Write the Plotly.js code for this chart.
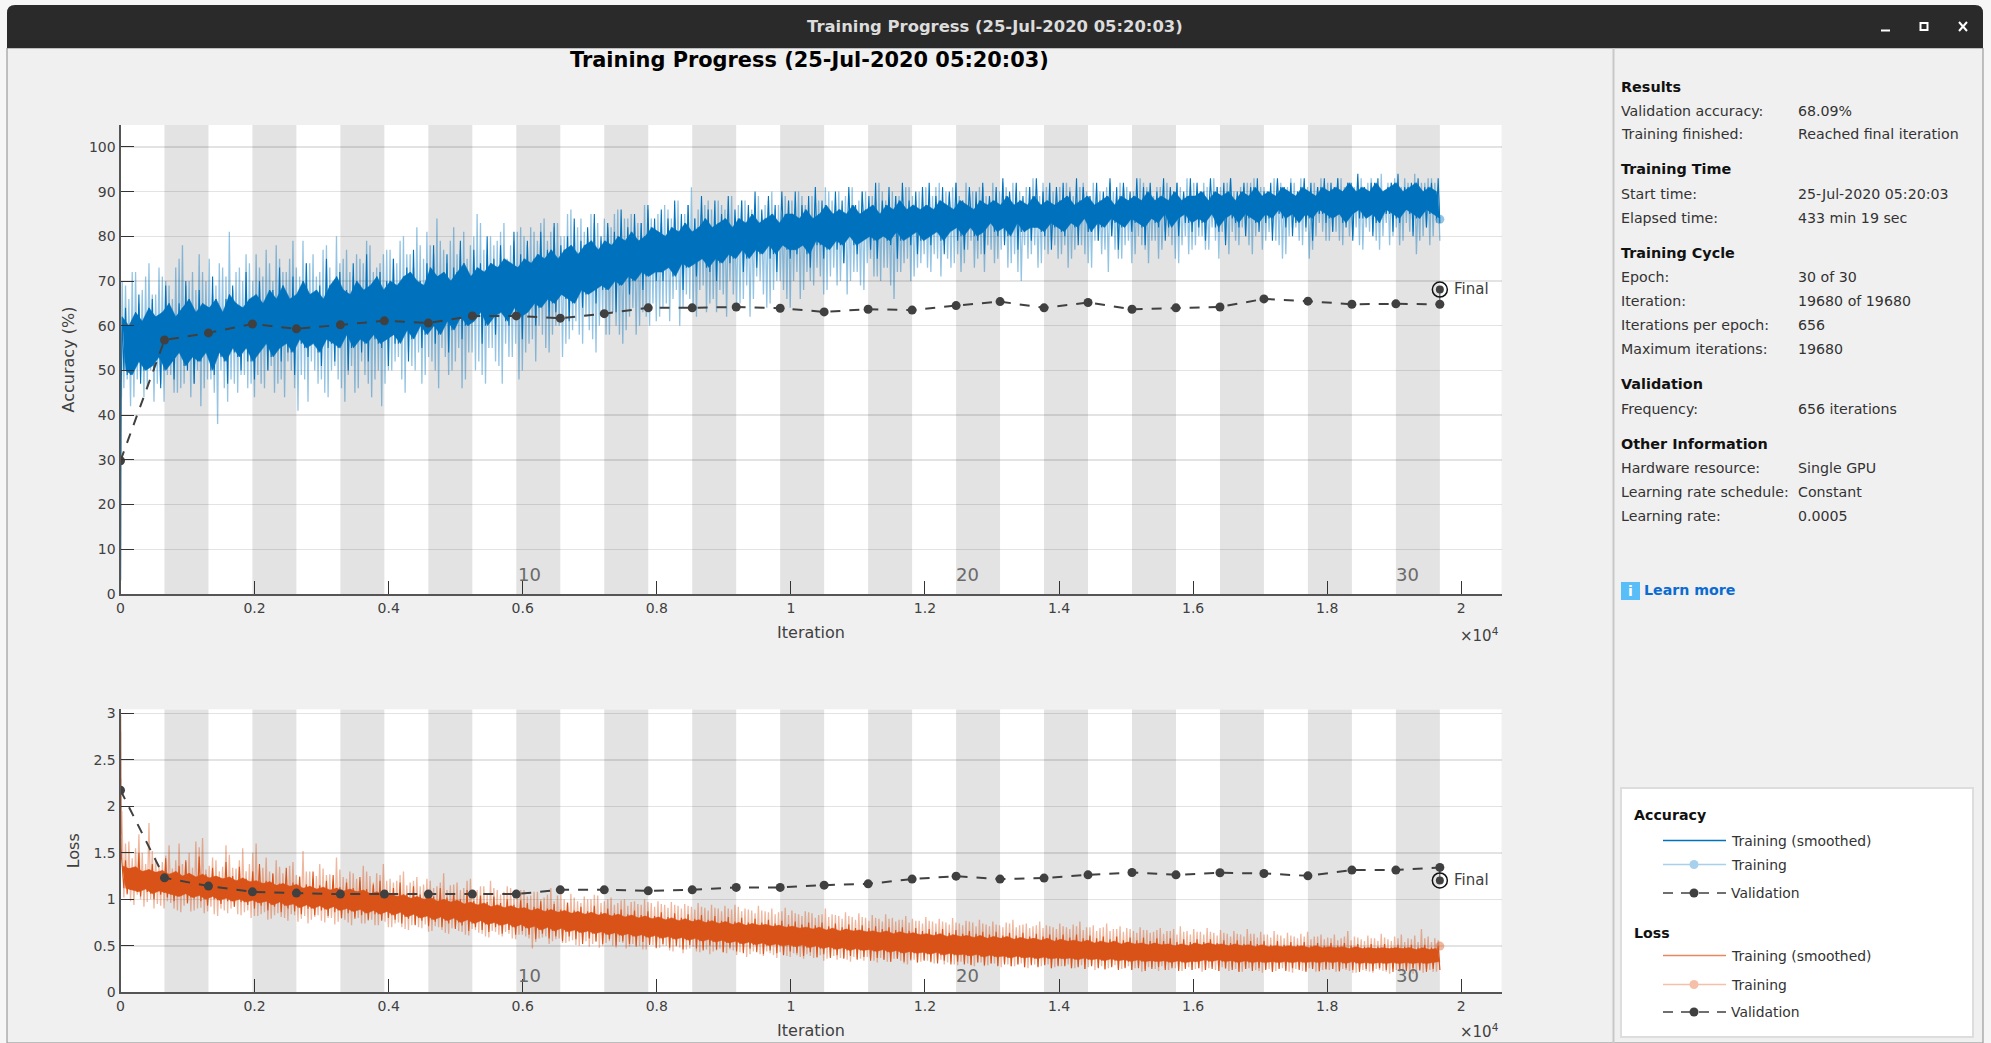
<!DOCTYPE html>
<html><head><meta charset="utf-8">
<script src="https://cdn.plot.ly/plotly-3.0.1.min.js"></script>
<style>html,body{margin:0;padding:0;background:#f6f6f6;overflow:hidden}#chart{width:1991px;height:1043px}</style>
</head><body><div id="chart"></div>
<script>
const windowTitle = "Training Progress (25-Jul-2020 05:20:03)";
const epochIter = 656, finalIter = 19680;
const validationEpochs = [0,1,2,3,4,5,6,7,8,9,10,11,12,13,14,15,16,17,18,19,20,21,22,23,24,25,26,27,28,29,30];
const validationAccuracy = [29.8,56.8,58.4,60.4,59.3,60.2,61.1,60.6,62.2,62.2,61.7,62.7,64.0,64.0,64.2,63.9,63.1,63.7,63.5,64.5,65.4,64.0,65.2,63.7,64.0,64.2,66.0,65.5,64.8,64.9,64.8];
const validationLoss = [2.173,1.231,1.142,1.08,1.067,1.056,1.056,1.056,1.056,1.056,1.102,1.102,1.091,1.102,1.128,1.128,1.152,1.166,1.217,1.249,1.217,1.228,1.263,1.288,1.263,1.285,1.278,1.252,1.314,1.314,1.343];
const finalAccuracy = 68.09, finalLoss = 1.203, lastRawAccuracy = 83.8, lastRawLoss = 0.497;
const startIter = [1,3,5,8,11,15,20];
const startAccRaw = [3,18,38,30,50,44,64];
const startAccSmooth = [3,14,30,40,47,50,58];
const startLossRaw = [2.98,2.4,2.8,2.0,2.3,1.7,1.95];
const startLossSmooth = [2.98,2.2,1.9,1.7,1.55,1.45,1.4];

const trainingAccuracyA = [
70,46,66,42,72,48,68,44,74,50,67,47,71,43,69,49,73,45,78,47,70,44,68,50,72,46,75,48,69,38,73,46,81,48,72,45,70,49,74,47,
76,49,71,46,74,51,78,47,72,44,75,50,73,41,79,48,74,52,71,47,77,45,73,50,80,48,75,43,72,51,76,46,74,49,78,44,73,50,76,47,
77,50,74,53,80,45,76,51,82,54,75,49,78,52,84,46,77,53,79,50,76,55,81,48,78,54,85,52,77,47,80,55,79,51,83,56,78,53,81,48,
80,54,82,57,79,60,84,55,81,58,83,60,80,56,86,59,82,58,81,62,85,57,83,60,84,58,82,63,86,58,84,59,85,64,83,60,87,62,84,65,
85,62,87,65,84,66,88,60,85,67,91,64,86,68,87,63,86,66,88,68,86,62,89,67,87,65,88,69,86,66,89,70,87,64,90,68,87,70,89,66,
88,70,90,66,87,72,89,69,88,71,91,68,88,73,90,70,89,67,91,72,88,69,90,74,89,71,92,70,88,73,90,66,89,72,91,75,89,71,90,74,
91,73,89,76,92,71,90,75,91,74,89,72,92,77,90,73,91,76,89,78,92,74,90,77,91,73,92,76,90,70,91,75,93,78,89,74,91,76,90,78,
91,76,92,73,89,77,91,78,90,74,92,79,90,76,91,72,90,77,92,75,91,79,90,76,93,78,91,74,89,79,91,77,92,80,90,75,91,78,93,76,
92,78,90,80,91,77,93,79,91,81,92,76,90,79,91,82,92,78,93,80,91,77,90,81,93,79,92,75,91,80,92,82,93,78,91,75,92,80,93,81,
92,79,91,81,93,78,92,80,91,82,93,77,92,81,91,79,94,80,92,78,93,82,91,79,92,81,94,76,92,80,93,78,92,83];
const trainingAccuracyB = [
69,48,72,44,65,50,71,46,67,43,73,47,70,49,66,45,75,46,69,50,72,47,76,42,70,48,67,45,74,50,71,43,68,47,73,49,76,46,70,44,
73,47,77,50,70,45,75,48,72,52,79,46,71,49,74,43,76,50,72,48,78,44,70,51,74,46,77,49,71,45,75,52,79,47,72,48,74,42,77,50,
75,52,79,48,76,54,73,50,78,47,81,53,76,50,79,55,74,49,82,52,77,46,75,54,80,50,83,49,76,55,78,52,81,47,75,53,79,56,82,50,
78,56,81,52,83,58,79,54,82,60,80,53,85,57,78,61,84,56,80,59,83,54,79,62,82,58,85,60,81,56,84,62,80,58,83,63,86,60,82,61,
83,64,86,61,84,68,82,64,87,66,84,62,85,69,88,65,83,63,87,67,85,70,84,64,88,66,85,62,87,71,84,67,88,65,86,70,85,68,88,64,
86,72,89,68,85,70,88,73,86,67,90,71,87,69,85,74,89,70,87,72,90,68,86,75,88,71,90,73,87,69,89,72,86,74,91,70,88,73,87,76,
88,72,91,75,87,78,89,73,92,76,88,74,90,79,87,75,91,72,88,77,90,75,92,79,88,74,90,72,87,78,91,76,89,73,92,77,88,79,90,75,
89,78,91,75,88,80,92,76,89,73,90,79,88,77,92,80,89,75,91,78,88,74,90,80,92,77,89,79,91,75,88,81,90,78,92,74,89,80,91,77,
90,80,92,77,89,82,91,75,90,79,93,81,89,78,91,80,92,76,90,83,91,79,89,81,92,78,91,76,93,82,90,79,92,81,89,77,91,83,92,79,
90,81,93,79,91,83,89,80,92,78,90,82,93,81,91,77,89,83,92,80,90,78,93,83,91,81,89,79,92,82,93,80,91,79];

const smoothedAccuracyA = [
62,50,60,49,63,52,61,50,64,51,62,53,63,50,65,52,62,54,64,51,66,53,63,52,65,54,64,50,66,54,63,52,67,55,65,53,64,55,66,52,
67,54,65,56,68,53,66,55,69,56,66,54,67,57,70,55,67,56,68,54,66,57,69,56,71,55,68,58,67,55,70,57,68,56,69,58,71,56,68,57,
70,58,69,56,71,59,72,57,70,60,69,58,73,60,71,58,72,61,70,59,72,62,74,60,71,61,73,63,72,60,74,62,73,63,75,61,74,64,73,62,
75,63,74,65,76,64,75,66,77,65,75,67,77,66,78,65,76,68,78,67,79,68,77,69,79,68,78,70,80,69,79,71,81,70,79,72,80,71,82,72,
81,72,80,73,82,71,81,74,83,73,81,74,82,75,84,73,82,75,83,74,84,76,82,75,84,77,83,75,85,77,83,76,84,78,85,76,83,78,85,77,
85,77,84,78,86,76,84,79,85,78,87,77,85,79,86,78,85,80,87,78,85,79,86,80,87,79,85,80,87,79,86,81,88,79,86,80,87,81,86,79,
87,80,86,81,88,79,87,81,86,82,88,80,87,82,86,80,88,81,87,83,88,81,87,82,89,80,87,83,88,81,87,82,89,82,87,81,88,83,87,82,
88,81,89,83,87,82,88,84,89,81,87,83,88,82,89,84,87,83,89,82,88,84,89,83,88,82,90,84,88,83,89,85,88,82,90,84,88,85,89,83,
89,84,90,83,88,85,90,82,89,84,90,85,88,83,90,85,89,84,91,83,89,85,90,84,89,86,91,84,90,85,89,83,91,85,90,84,89,86,91,85,
90,84,91,85,90,83,92,85,90,86,91,84,90,85,92,83,90,86,91,85,92,84,90,86,91,85,92,84,90,86,91,85,90,84];
const smoothedAccuracyB = [
64,49,59,52,67,47,61,51,66,50,60,46,69,53,62,48,65,54,70,50,61,47,68,52,63,55,71,49,62,53,66,47,69,54,64,50,72,52,63,48,
70,55,64,50,68,57,73,52,66,54,71,49,65,56,74,53,67,58,69,51,75,55,66,52,72,57,68,50,74,58,69,54,76,52,67,57,72,55,70,51,
75,56,69,60,73,52,77,58,70,55,74,61,78,56,71,59,76,54,73,62,79,57,72,60,77,63,74,56,80,61,75,58,78,64,73,60,81,62,76,57,
79,64,75,60,81,66,77,62,83,63,78,68,80,61,84,67,79,64,82,70,85,65,80,68,83,71,81,63,86,70,82,67,85,72,83,68,87,73,84,70,
86,70,84,74,88,72,85,68,87,75,84,71,89,76,86,72,88,70,85,76,89,74,86,78,88,72,87,76,90,73,86,78,89,75,87,72,90,79,88,75,
90,76,87,80,89,73,91,78,88,75,86,81,90,77,88,74,91,80,87,76,90,82,89,77,92,75,88,81,91,78,89,75,92,82,88,78,90,76,91,80,
92,78,89,82,91,76,90,83,92,79,88,77,91,84,90,79,92,76,89,83,91,80,93,78,90,84,92,77,89,81,91,79,93,84,90,80,92,77,91,83,
92,80,90,84,93,78,91,85,89,81,92,79,90,84,93,80,91,77,92,85,90,81,93,83,91,78,92,84,90,82,93,79,91,85,92,80,90,83,93,81,
92,82,90,79,93,85,91,81,92,78,93,84,90,82,92,80,91,86,93,81,90,83,92,79,93,85,91,82,92,80,90,86,93,82,92,79,91,85,93,83,
92,81,93,85,90,82,92,79,94,84,91,86,92,80,93,83,90,85,92,81,94,83,91,86,92,80,93,84,91,82,92,85,93,83];

const trainingLossA = [
1.75,1.02,1.62,0.98,1.55,1.05,1.5,0.92,1.82,1.0,1.45,0.95,1.4,0.9,1.58,0.96,1.42,0.88,1.38,0.93,1.5,0.87,1.62,0.9,1.66,0.85,1.36,0.92,1.42,0.82,1.35,0.88,1.48,0.9,1.33,0.84,1.55,0.86,1.38,0.8,
1.6,0.82,1.34,0.86,1.3,0.79,1.42,0.85,1.28,0.8,1.36,0.84,1.26,0.76,1.52,0.82,1.3,0.78,1.25,0.83,1.33,0.75,1.27,0.8,1.45,0.76,1.24,0.78,1.3,0.72,1.22,0.8,1.36,0.74,1.25,0.78,1.28,0.72,1.38,0.76,
1.22,0.7,1.2,0.75,1.3,0.68,1.18,0.72,1.24,0.7,1.16,0.73,1.2,0.66,1.14,0.7,1.28,0.64,1.15,0.69,1.18,0.66,1.12,0.62,1.22,0.68,1.1,0.64,1.14,0.6,1.2,0.66,1.1,0.62,1.08,0.65,1.12,0.58,1.06,0.62,
1.1,0.6,1.04,0.47,1.08,0.58,1.02,0.6,1.12,0.55,1.04,0.58,1.0,0.53,1.06,0.56,0.98,0.5,1.03,0.55,1.0,0.52,1.04,0.48,0.98,0.53,1.02,0.5,0.96,0.54,1.0,0.47,0.97,0.52,0.95,0.5,1.0,0.46,0.96,0.51,
0.98,0.48,0.94,0.5,0.97,0.44,0.93,0.48,0.95,0.46,0.92,0.49,0.96,0.43,0.91,0.46,0.94,0.44,0.9,0.47,0.93,0.42,0.89,0.45,0.92,0.43,0.9,0.38,0.88,0.44,0.93,0.41,0.87,0.44,0.9,0.4,0.86,0.43,0.91,0.39,
0.88,0.42,0.84,0.38,0.87,0.41,0.85,0.37,0.83,0.4,0.9,0.36,0.84,0.39,0.82,0.37,0.86,0.35,0.81,0.38,0.85,0.36,0.8,0.38,0.83,0.34,0.79,0.37,0.84,0.33,0.8,0.36,0.78,0.34,0.82,0.3,0.79,0.35,0.77,0.33,
0.81,0.34,0.76,0.31,0.79,0.35,0.75,0.32,0.8,0.3,0.74,0.33,0.77,0.31,0.75,0.28,0.78,0.32,0.73,0.29,0.76,0.31,0.72,0.27,0.75,0.3,0.78,0.28,0.72,0.31,0.74,0.26,0.71,0.3,0.76,0.28,0.72,0.3,0.7,0.27,
0.74,0.28,0.7,0.3,0.73,0.26,0.76,0.29,0.7,0.27,0.72,0.24,0.69,0.28,0.74,0.26,0.68,0.29,0.71,0.25,0.69,0.28,0.66,0.26,0.7,0.22,0.67,0.27,0.65,0.25,0.69,0.28,0.66,0.24,0.68,0.26,0.71,0.23,0.66,0.27,
0.68,0.25,0.65,0.22,0.69,0.26,0.64,0.24,0.67,0.27,0.63,0.23,0.66,0.25,0.62,0.22,0.68,0.26,0.63,0.24,0.65,0.21,0.62,0.25,0.66,0.23,0.61,0.26,0.64,0.22,0.6,0.25,0.63,0.23,0.65,0.26,0.6,0.22,0.62,0.24,
0.59,0.24,0.62,0.22,0.58,0.25,0.66,0.23,0.6,0.21,0.57,0.24,0.61,0.22,0.58,0.25,0.63,0.23,0.57,0.2,0.6,0.24,0.62,0.22,0.58,0.2,0.61,0.23,0.68,0.21,0.6,0.24,0.58,0.22];
const trainingLossB = [
1.6,1.05,1.44,0.94,1.7,1.0,1.38,0.97,1.52,0.9,1.35,0.93,1.47,0.98,1.33,0.9,1.6,0.86,1.4,0.95,1.34,0.88,1.56,0.91,1.32,0.87,1.45,0.84,1.3,0.9,1.58,0.85,1.34,0.92,1.42,0.83,1.3,0.88,1.5,0.82,
1.32,0.84,1.45,0.78,1.27,0.83,1.35,0.81,1.24,0.77,1.4,0.83,1.25,0.79,1.3,0.74,1.22,0.81,1.38,0.77,1.26,0.8,1.2,0.73,1.32,0.79,1.22,0.75,1.28,0.81,1.2,0.74,1.3,0.77,1.18,0.72,1.26,0.78,1.2,0.7,
1.18,0.74,1.26,0.7,1.15,0.67,1.2,0.73,1.14,0.69,1.22,0.65,1.12,0.71,1.18,0.67,1.1,0.63,1.16,0.7,1.1,0.65,1.2,0.61,1.08,0.67,1.14,0.63,1.06,0.59,1.12,0.65,1.05,0.6,1.14,0.63,1.04,0.57,1.1,0.62,
1.03,0.58,1.08,0.54,1.0,0.59,1.05,0.52,0.98,0.57,1.06,0.53,0.97,0.55,1.02,0.51,0.96,0.56,1.0,0.49,1.05,0.54,0.96,0.5,1.0,0.55,0.94,0.48,0.99,0.53,0.93,0.49,0.98,0.51,0.94,0.46,0.97,0.52,0.92,0.47,
0.95,0.5,0.91,0.45,0.94,0.49,0.9,0.42,0.93,0.47,0.89,0.44,0.92,0.48,0.88,0.41,0.91,0.45,0.87,0.43,0.9,0.46,0.94,0.4,0.87,0.44,0.89,0.41,0.85,0.45,0.88,0.39,0.86,0.42,0.84,0.37,0.87,0.41,0.83,0.38,
0.85,0.4,0.82,0.36,0.86,0.39,0.8,0.37,0.84,0.34,0.81,0.38,0.83,0.35,0.79,0.37,0.82,0.33,0.78,0.36,0.81,0.34,0.77,0.37,0.8,0.32,0.76,0.35,0.79,0.33,0.76,0.36,0.78,0.31,0.75,0.34,0.77,0.32,0.74,0.35,
0.77,0.32,0.74,0.35,0.76,0.3,0.73,0.33,0.75,0.29,0.72,0.33,0.76,0.3,0.71,0.32,0.74,0.28,0.71,0.31,0.73,0.29,0.7,0.32,0.74,0.28,0.7,0.3,0.73,0.27,0.69,0.31,0.72,0.28,0.69,0.3,0.71,0.26,0.68,0.29,
0.71,0.29,0.68,0.26,0.71,0.28,0.67,0.25,0.7,0.29,0.66,0.27,0.7,0.24,0.66,0.28,0.68,0.26,0.65,0.27,0.68,0.24,0.64,0.28,0.67,0.25,0.64,0.27,0.67,0.23,0.63,0.26,0.66,0.28,0.62,0.25,0.65,0.27,0.62,0.24,
0.65,0.26,0.62,0.24,0.65,0.27,0.61,0.23,0.64,0.25,0.6,0.27,0.63,0.22,0.6,0.25,0.63,0.27,0.59,0.23,0.62,0.25,0.59,0.22,0.62,0.26,0.58,0.24,0.61,0.21,0.58,0.25,0.6,0.23,0.57,0.26,0.6,0.22,0.57,0.24,
0.58,0.25,0.56,0.22,0.6,0.24,0.56,0.21,0.59,0.25,0.55,0.23,0.58,0.21,0.55,0.24,0.59,0.22,0.55,0.25,0.58,0.22,0.54,0.24,0.57,0.2,0.54,0.23,0.58,0.25,0.54,0.22,0.56,0.24];

const smoothedLossA = [
1.36,1.12,1.33,1.1,1.35,1.08,1.3,1.11,1.32,1.06,1.29,1.09,1.31,1.07,1.27,1.05,1.3,1.03,1.25,1.06,1.28,1.02,1.24,1.04,1.27,1.0,1.23,1.03,1.25,0.99,1.22,1.01,1.24,0.98,1.2,1.0,1.23,0.97,1.19,0.99,
1.2,0.96,1.17,0.98,1.19,0.94,1.15,0.97,1.17,0.93,1.14,0.95,1.16,0.91,1.12,0.94,1.14,0.9,1.11,0.93,1.13,0.89,1.1,0.92,1.12,0.88,1.09,0.9,1.11,0.87,1.08,0.89,1.1,0.85,1.06,0.88,1.08,0.84,1.05,0.87,
1.06,0.83,1.03,0.86,1.05,0.81,1.01,0.84,1.03,0.8,1.0,0.82,1.02,0.78,0.98,0.81,1.0,0.77,0.97,0.8,0.99,0.75,0.95,0.78,0.97,0.74,0.94,0.77,0.96,0.73,0.92,0.75,0.94,0.72,0.91,0.74,0.93,0.7,0.9,0.73,
0.91,0.69,0.88,0.71,0.9,0.67,0.87,0.7,0.89,0.66,0.86,0.69,0.88,0.65,0.85,0.67,0.87,0.64,0.84,0.66,0.86,0.63,0.83,0.65,0.85,0.62,0.82,0.64,0.84,0.61,0.81,0.63,0.83,0.6,0.8,0.62,0.82,0.59,0.79,0.61,
0.81,0.58,0.78,0.6,0.8,0.57,0.77,0.59,0.79,0.56,0.76,0.58,0.78,0.55,0.75,0.57,0.77,0.54,0.74,0.56,0.76,0.53,0.73,0.55,0.75,0.52,0.72,0.54,0.74,0.51,0.72,0.53,0.73,0.5,0.71,0.52,0.72,0.5,0.7,0.51,
0.71,0.49,0.69,0.51,0.7,0.48,0.68,0.5,0.7,0.47,0.67,0.49,0.69,0.46,0.66,0.48,0.68,0.45,0.66,0.47,0.67,0.45,0.65,0.46,0.66,0.44,0.64,0.46,0.66,0.43,0.63,0.45,0.65,0.42,0.63,0.44,0.64,0.42,0.62,0.43,
0.63,0.41,0.61,0.43,0.63,0.4,0.6,0.42,0.62,0.4,0.6,0.41,0.61,0.39,0.59,0.41,0.61,0.38,0.58,0.4,0.6,0.38,0.58,0.39,0.6,0.37,0.57,0.39,0.59,0.37,0.57,0.38,0.58,0.36,0.56,0.38,0.58,0.36,0.55,0.37,
0.57,0.36,0.55,0.37,0.56,0.35,0.54,0.37,0.56,0.35,0.53,0.36,0.55,0.34,0.53,0.36,0.55,0.34,0.52,0.35,0.54,0.33,0.52,0.35,0.53,0.33,0.51,0.34,0.53,0.33,0.51,0.34,0.52,0.32,0.5,0.34,0.52,0.32,0.5,0.33,
0.53,0.33,0.51,0.35,0.53,0.33,0.51,0.35,0.52,0.33,0.5,0.34,0.52,0.32,0.5,0.34,0.51,0.32,0.49,0.33,0.51,0.32,0.49,0.33,0.5,0.32,0.49,0.33,0.5,0.32,0.49,0.33,0.5,0.32,0.48,0.33,0.5,0.32,0.48,0.33,
0.49,0.32,0.48,0.33,0.49,0.31,0.47,0.33,0.49,0.31,0.47,0.32,0.48,0.31,0.47,0.32,0.48,0.31,0.47,0.32,0.48,0.31,0.47,0.32,0.48,0.31,0.46,0.32,0.48,0.31,0.46,0.32,0.47,0.33];
const smoothedLossB = [
1.42,1.06,1.32,1.12,1.5,1.03,1.3,1.08,1.38,1.0,1.28,1.05,1.44,1.02,1.26,0.98,1.36,1.04,1.42,0.96,1.25,1.01,1.46,0.98,1.27,0.93,1.34,1.0,1.24,0.95,1.4,0.98,1.25,0.92,1.35,0.97,1.22,0.94,1.3,0.9,
1.38,0.93,1.2,0.88,1.28,0.92,1.17,0.86,1.34,0.9,1.18,0.87,1.24,0.84,1.16,0.9,1.3,0.83,1.15,0.88,1.2,0.82,1.26,0.86,1.13,0.8,1.18,0.85,1.12,0.79,1.24,0.83,1.11,0.78,1.16,0.84,1.2,0.77,1.1,0.8,
1.12,0.78,1.18,0.74,1.06,0.79,1.14,0.72,1.05,0.77,1.1,0.71,1.03,0.76,1.12,0.7,1.02,0.74,1.07,0.68,1.0,0.72,1.1,0.66,0.98,0.7,1.04,0.67,0.97,0.65,1.03,0.7,0.96,0.63,1.0,0.67,0.94,0.62,0.99,0.66,
0.96,0.62,0.92,0.57,0.98,0.63,0.9,0.58,0.95,0.6,0.89,0.55,0.96,0.6,0.88,0.57,0.92,0.52,0.87,0.58,0.93,0.55,0.86,0.52,0.9,0.57,0.85,0.5,0.89,0.55,0.84,0.52,0.88,0.49,0.83,0.54,0.87,0.51,0.82,0.48,
0.86,0.52,0.81,0.48,0.85,0.5,0.8,0.46,0.84,0.51,0.79,0.47,0.83,0.45,0.78,0.5,0.82,0.46,0.77,0.43,0.81,0.48,0.76,0.44,0.8,0.42,0.75,0.47,0.79,0.43,0.75,0.41,0.78,0.45,0.74,0.42,0.77,0.4,0.73,0.44,
0.76,0.42,0.73,0.39,0.75,0.43,0.72,0.38,0.75,0.41,0.71,0.37,0.74,0.4,0.7,0.36,0.73,0.39,0.69,0.35,0.72,0.38,0.69,0.34,0.71,0.37,0.68,0.35,0.7,0.33,0.67,0.36,0.7,0.33,0.66,0.35,0.69,0.32,0.66,0.34,
0.68,0.33,0.65,0.31,0.68,0.34,0.64,0.3,0.67,0.33,0.63,0.3,0.66,0.29,0.63,0.32,0.65,0.29,0.62,0.31,0.65,0.28,0.61,0.3,0.64,0.28,0.61,0.3,0.64,0.27,0.6,0.29,0.63,0.27,0.6,0.29,0.62,0.26,0.59,0.28,
0.62,0.28,0.59,0.26,0.62,0.27,0.58,0.25,0.61,0.28,0.58,0.26,0.6,0.25,0.57,0.27,0.6,0.24,0.56,0.26,0.59,0.24,0.56,0.26,0.59,0.23,0.55,0.25,0.58,0.27,0.55,0.24,0.58,0.26,0.54,0.23,0.57,0.25,0.54,0.24,
0.57,0.26,0.54,0.24,0.57,0.25,0.53,0.23,0.56,0.26,0.53,0.24,0.56,0.22,0.52,0.25,0.55,0.23,0.52,0.26,0.55,0.24,0.51,0.22,0.55,0.25,0.51,0.23,0.54,0.26,0.51,0.24,0.54,0.22,0.5,0.25,0.53,0.23,0.5,0.25,
0.53,0.25,0.5,0.23,0.53,0.26,0.5,0.24,0.52,0.22,0.49,0.25,0.52,0.23,0.49,0.26,0.52,0.24,0.48,0.22,0.51,0.25,0.49,0.23,0.51,0.26,0.48,0.24,0.51,0.22,0.48,0.25,0.5,0.24];

const xTickVals = [0,2000,4000,6000,8000,10000,12000,14000,16000,18000,20000];
const xTickText = ["0","0.2","0.4","0.6","0.8","1","1.2","1.4","1.6","1.8","2"];
const accTicks = [0,10,20,30,40,50,60,70,80,90,100];
const lossTicks = [0,0.5,1,1.5,2,2.5,3];
const lossTickText = ["0","0.5","1","1.5","2","2.5","3"];
const epochLabels = ["10","20","30"];
const epochLabelIter = [6094,12640,19200];
const panelRows = [
 ["Results",86.5,1],["Validation accuracy:",110.5,0,"68.09%"],["Training finished:",134.5,0,"Reached final iteration"],
 ["Training Time",169,1],["Start time:",194,0,"25-Jul-2020 05:20:03"],["Elapsed time:",218,0,"433 min 19 sec"],
 ["Training Cycle",253,1],["Epoch:",277,0,"30 of 30"],["Iteration:",301,0,"19680 of 19680"],["Iterations per epoch:",325,0,"656"],["Maximum iterations:",349,0,"19680"],
 ["Validation",384,1],["Frequency:",409,0,"656 iterations"],
 ["Other Information",444,1],["Hardware resource:",468,0,"Single GPU"],["Learning rate schedule:",492,0,"Constant"],["Learning rate:",516,0,"0.0005"]];

const W=1991,H=1043;
const px=v=>v/W, py=v=>1-v/H;
const FONT='"DejaVu Sans", sans-serif', TXT='#404040';
const BLUE='#0072bd', ORANGE='#d95319', VAL='#404040';
const BLUE_L='rgba(0,114,189,0.42)', ORANGE_L='rgba(217,83,25,0.42)';
const weave=(a,b)=>{const o=[];for(let i=0;i<a.length;i+=2)o.push(a[i],a[i+1],b[i],b[i+1]);return o;};
const spreadIters=n=>Array.from({length:n},(_,i)=>25+i*(finalIter-25)/(n-1));
const xOf=a=>startIter.concat(spreadIters(a.length));
const valIter=validationEpochs.map(e=>e*epochIter);

function line(x,y,color,width,ax,extra){return Object.assign({type:'scatter',mode:'lines',x,y,xaxis:'x'+ax,yaxis:'y'+ax,line:{color,width,simplify:false},hoverinfo:'skip',showlegend:false},extra||{});}
// the solid core: upper samples of the smoothed curve, then its lower samples back
function band(smooth,c,ax){
 const xs=spreadIters(smooth.length), up=[],dn=[];
 smooth.forEach((v,i)=>(i%2?dn:up).push([xs[i],v]));
 const pts=up.concat(dn.reverse());
 return line(pts.map(p=>p[0]),pts.map(p=>p[1]),c,0.5,ax,{fill:'toself',fillcolor:c});
}
function panelTraces(rawA,rawB,startRaw,smoothA,smoothB,startSmooth,val,fin,last,cL,c,ax){
 const raw=weave(rawA,rawB), smooth=weave(smoothA,smoothB);
 return [
  line(xOf(raw),startRaw.concat(raw),cL,1.3,ax),
  band(smoothA,c,ax),
  line(xOf(smooth),startSmooth.concat(smooth),c,1.1,ax),
  {type:'scatter',mode:'markers',x:[finalIter],y:[last],xaxis:'x'+ax,yaxis:'y'+ax,marker:{color:cL,size:9},showlegend:false,hoverinfo:'skip'},
  line(valIter,val,VAL,2,ax,{mode:'lines+markers',line:{color:VAL,width:2,dash:'10px,9px'},marker:{color:VAL,size:9}}),
  line([finalIter,finalIter],[fin,val[val.length-1]],VAL,1,ax),
  {type:'scatter',mode:'markers',x:[finalIter],y:[fin],xaxis:'x'+ax,yaxis:'y'+ax,marker:{color:VAL,size:8},showlegend:false,hoverinfo:'skip'},
  {type:'scatter',mode:'markers',x:[finalIter],y:[fin],xaxis:'x'+ax,yaxis:'y'+ax,marker:{symbol:'circle-open',color:'#111',size:15,line:{width:1.5,color:'#111'}},showlegend:false,hoverinfo:'skip'}
 ];
}
const data=[...panelTraces(trainingAccuracyA,trainingAccuracyB,startAccRaw,smoothedAccuracyA,smoothedAccuracyB,startAccSmooth,validationAccuracy,finalAccuracy,lastRawAccuracy,BLUE_L,BLUE,''),
            ...panelTraces(trainingLossA,trainingLossB,startLossRaw,smoothedLossA,smoothedLossB,startLossSmooth,validationLoss,finalLoss,lastRawLoss,ORANGE_L,ORANGE,'2')];

const X0=120.5,X1=1501.5;
const xMax=(X1-X0)/670.4*10000;
const acc={top:125,bot:594,max:(594-125)/4.471};
const los={top:709.3,bot:992.3,max:(992.3-709.3)/93};
function xa(anchor){return {domain:[px(X0),px(X1)],range:[0,xMax],anchor,tickmode:'array',tickvals:xTickVals,ticktext:xTickText,ticks:'inside',ticklen:13,tickwidth:1,tickcolor:'#333',showline:true,linecolor:'#555',linewidth:2,showgrid:false,zeroline:false,tickfont:{family:FONT,size:14,color:TXT},title:{text:'Iteration',font:{family:FONT,size:16,color:TXT},standoff:12},layer:'above traces'};}
function ya(anchor,p,vals,text,title){return {domain:[py(p.bot),py(p.top)],range:[0,p.max],anchor,tickmode:'array',tickvals:vals,ticktext:text,ticks:'inside',ticklen:13,tickwidth:1,tickcolor:'#333',showline:true,linecolor:'#555',linewidth:2,showgrid:true,gridcolor:'rgba(0,0,0,0.11)',gridwidth:1.5,zeroline:false,tickfont:{family:FONT,size:14,color:TXT},title:{text:title,font:{family:FONT,size:16,color:TXT},standoff:10},layer:'above traces'};}

const shapes=[], annotations=[];
const pr=(x0,y0,x1,y1,fill,lc,lw)=>shapes.push({type:'rect',xref:'paper',yref:'paper',x0:px(x0),x1:px(x1),y0:py(y0),y1:py(y1),fillcolor:fill||'rgba(0,0,0,0)',line:{color:lc||'rgba(0,0,0,0)',width:lw||0},layer:'below'});
const pl=(x0,y0,x1,y1,c,w,dash,layer)=>shapes.push({type:'line',xref:'paper',yref:'paper',x0:px(x0),x1:px(x1),y0:py(y0),y1:py(y1),line:{color:c,width:w,dash:dash||'solid'},layer:layer||'above'});
const pc=(cx,cy,r,c)=>shapes.push({type:'circle',xref:'paper',yref:'paper',x0:px(cx-r),x1:px(cx+r),y0:py(cy-r),y1:py(cy+r),fillcolor:c,line:{width:0},layer:'above'});
const txt=(t,x,y,o)=>annotations.push(Object.assign({text:t,xref:'paper',yref:'paper',x:px(x),y:py(y),xanchor:'left',yanchor:'middle',showarrow:false,align:'left',font:{family:FONT,size:14.2,color:'#333'}},o||{}));

// window chrome
pr(7,48,1983,1043,'#f0f0f0','#8a8a8a',1);
pr(X0,acc.top,X1,acc.bot,'#ffffff');
pr(X0,los.top,X1,los.bot,'#ffffff');
shapes.push({type:'path',xref:'paper',yref:'paper',layer:'below',fillcolor:'#2a2a2a',line:{width:0},
 path:`M ${px(7)} ${py(48)} L ${px(7)} ${py(13)} Q ${px(7)} ${py(5)} ${px(15)} ${py(5)} L ${px(1975)} ${py(5)} Q ${px(1983)} ${py(5)} ${px(1983)} ${py(13)} L ${px(1983)} ${py(48)} Z`});
pl(1613.5,48,1613.5,1043,'#c8c8c8',2,'solid','below');
txt(windowTitle,995,26.5,{xanchor:'center',font:{family:FONT,size:16.4,color:'#dcdcdc',weight:600}});
pl(1881,30.5,1890,30.5,'#fff',2);
pr(1920.5,23,1927.5,30,'rgba(0,0,0,0)','#fff',2); shapes[shapes.length-1].layer='above';
pl(1959,22,1967,31,'#fff',2); pl(1967,22,1959,31,'#fff',2);
txt(windowTitle,809,60.5,{xanchor:'center',font:{family:FONT,size:20.9,color:'#000',weight:700}});

// epoch stripes
for(let e=1;e<30;e+=2){
 shapes.push({type:'rect',xref:'x',yref:'y',x0:e*epochIter,x1:(e+1)*epochIter,y0:0,y1:acc.max,fillcolor:'#e3e3e3',line:{width:0},layer:'below'});
 shapes.push({type:'rect',xref:'x2',yref:'y2',x0:e*epochIter,x1:(e+1)*epochIter,y0:0,y1:los.max,fillcolor:'#e3e3e3',line:{width:0},layer:'below'});
}
// epoch labels
epochLabels.forEach((t,i)=>{
 annotations.push({text:t,xref:'x',yref:'y',x:epochLabelIter[i],y:4.4,showarrow:false,font:{family:FONT,size:18,color:'#6a6a6a'}});
 annotations.push({text:t,xref:'x2',yref:'y2',x:epochLabelIter[i],y:0.186,showarrow:false,font:{family:FONT,size:18,color:'#6a6a6a'}});
});
// Final labels and exponents
txt('Final',1451.5,289.5,{font:{family:FONT,size:15,color:TXT}});
txt('Final',1451.5,880,{font:{family:FONT,size:15,color:TXT}});
txt('×10<sup>4</sup>',1501,635,{xanchor:'right',font:{family:FONT,size:15,color:TXT}});
txt('×10<sup>4</sup>',1501,1031,{xanchor:'right',font:{family:FONT,size:15,color:TXT}});

// information panel
panelRows.forEach(r=>{
 txt(r[0],1619,r[1],{font:{family:FONT,size:r[2]?14.4:14.2,color:r[2]?'#111':'#333',weight:r[2]?700:400}});
 if(r[3]) txt(r[3],1796,r[1]);
});
pr(1621,582,1640,600,'#59bdf7');
txt('i',1630.5,591,{xanchor:'center',font:{family:FONT,size:14,color:'#fff',weight:700}});
txt('Learn more',1642,590,{font:{family:FONT,size:14.2,color:'#0b6bd0',weight:700}});

// legend panel
pr(1621,788,1973,1037,'#ffffff','#dddddd',2);
const LX0=1663,LX1=1726,LM=1694,LT=1729;
const LF={family:FONT,size:13.9,color:'#333'};
function legendGroup(name,y,c,cL,ys){
 txt(name,1631.5,y,{font:{family:FONT,size:14.2,color:'#111',weight:700}});
 pl(LX0,ys[0],LX1,ys[0],c,1.5); txt('Training (smoothed)',LT,ys[0],{font:LF});
 pl(LX0,ys[1],LX1,ys[1],cL,1.5); pc(LM,ys[1],4.5,cL); txt('Training',LT,ys[1],{font:LF});
 pl(LX0,ys[2],LX1,ys[2],VAL,1.5,'10px,8px'); pc(LM,ys[2],4.5,VAL); txt('Validation',LT,ys[2],{font:LF});
}
legendGroup('Accuracy',814.5,BLUE,'#a6d0ec',[840.5,864.5,893]);
legendGroup('Loss',932.5,'#e8865e','#f5c0a8',[955.5,984.5,1012]);

const layout={width:W,height:H,margin:{l:0,r:0,t:0,b:0},paper_bgcolor:'#f6f6f6',plot_bgcolor:'#ffffff',showlegend:false,
 xaxis:xa('y'),yaxis:ya('x',acc,accTicks,accTicks.map(String),'Accuracy (%)'),
 xaxis2:xa('y2'),yaxis2:ya('x2',los,lossTicks,lossTickText,'Loss'),shapes,annotations};
Plotly.newPlot('chart',data,layout,{displayModeBar:false,staticPlot:true});
</script></body></html>
